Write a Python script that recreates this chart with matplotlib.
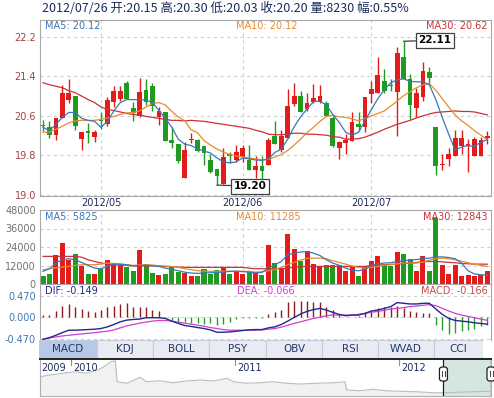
import numpy as np
import matplotlib
matplotlib.use("Agg")
import matplotlib.pyplot as plt
from matplotlib.patches import Rectangle, FancyBboxPatch

# ---- data (70 trading days, 2012-04-17 .. 2012-07-26) ----
opens = [20.40, 20.37, 20.22, 20.55, 20.93, 21.00, 20.13, 20.28, 20.18, 20.52,
         20.43, 20.89, 20.95, 21.27, 20.75, 20.60, 21.12, 21.20, 20.58, 20.68,
         20.12, 20.03, 19.35, 20.11, 20.12, 20.00, 19.71, 19.53, 19.22, 19.83,
         19.70, 19.77, 19.70, 19.51, 19.58, 19.60, 20.19, 19.91, 20.15, 20.85,
         21.00, 20.73, 20.88, 20.88, 20.87, 20.55, 19.95, 20.05, 20.10, 20.43,
         20.37, 21.05, 21.07, 21.31, 21.23, 21.08, 21.80, 21.35, 20.75, 20.98,
         21.48, 20.38, 19.60, 19.73, 19.78, 20.00, 20.00, 19.78, 19.78, 20.15]
closes = [20.39, 20.22, 20.55, 21.07, 21.07, 20.40, 20.27, 20.26, 20.27, 20.49,
          20.93, 21.10, 21.10, 20.95, 20.65, 21.08, 20.89, 20.80, 20.70, 20.10,
          20.05, 19.68, 19.91, 20.13, 19.89, 19.85, 19.47, 19.39, 19.77, 19.79,
          19.88, 19.95, 19.51, 19.59, 19.49, 20.12, 20.03, 20.20, 20.80, 21.00,
          20.68, 20.87, 20.97, 21.00, 20.60, 20.00, 20.07, 20.12, 20.48, 20.37,
          20.98, 21.15, 21.43, 21.11, 21.20, 21.87, 21.35, 20.82, 21.07, 21.50,
          21.37, 19.58, 19.63, 19.83, 20.15, 20.15, 20.03, 20.13, 20.11, 20.20]
highs = [20.51, 20.50, 20.56, 21.23, 21.35, 21.00, 20.27, 20.45, 20.32, 20.68,
         20.98, 21.20, 21.20, 21.30, 20.88, 21.37, 21.35, 21.27, 20.78, 20.68,
         20.37, 20.03, 20.07, 20.25, 20.14, 20.00, 19.83, 19.53, 19.95, 19.87,
         20.02, 20.02, 20.02, 19.78, 19.78, 20.15, 20.49, 20.32, 21.15, 21.27,
         21.11, 21.07, 21.25, 21.22, 20.90, 20.60, 20.10, 20.23, 20.67, 20.67,
         20.98, 21.30, 21.80, 21.55, 21.35, 22.00, 22.11, 21.45, 21.17, 21.69,
         21.58, 20.38, 19.83, 19.95, 20.31, 20.31, 20.13, 20.17, 20.18, 20.30]
lows = [20.30, 20.15, 20.11, 20.55, 20.87, 20.31, 19.92, 20.05, 20.08, 20.33,
        20.40, 20.78, 20.90, 20.95, 20.50, 20.57, 20.82, 20.70, 20.42, 20.09,
        19.95, 19.65, 19.35, 20.06, 19.87, 19.60, 19.45, 19.20, 19.22, 19.65,
        19.67, 19.67, 19.51, 19.35, 19.33, 19.60, 20.03, 19.88, 20.15, 20.80,
        20.68, 20.70, 20.87, 20.87, 20.60, 19.97, 19.73, 19.82, 20.10, 20.30,
        20.27, 20.87, 21.07, 21.07, 21.10, 20.20, 21.35, 20.53, 20.58, 20.90,
        21.23, 19.40, 19.51, 19.58, 19.78, 19.82, 19.47, 19.78, 19.78, 20.03]

ma5 = [20.37, 20.30, 20.43, 20.57, 20.67, 20.67, 20.55, 20.51, 20.49, 20.37,
       20.49, 20.70, 20.87, 20.93, 20.93, 20.93, 20.92, 20.87, 20.71, 20.55,
       20.37, 20.13, 20.03, 20.00, 19.93, 19.89, 19.85, 19.75, 19.67, 19.65,
       19.67, 19.75, 19.73, 19.71, 19.70, 19.73, 19.86, 19.93, 20.13, 20.38,
       20.58, 20.74, 20.89, 20.90, 20.82, 20.63, 20.47, 20.27, 20.21, 20.27,
       20.50, 20.73, 20.95, 21.13, 21.27, 21.33, 21.35, 21.30, 21.29, 21.29,
       21.23, 20.93, 20.57, 20.23, 19.91, 19.97, 20.00, 19.98, 20.07, 20.12]
ma10 = [20.27, 20.27, 20.33, 20.39, 20.46, 20.50, 20.51, 20.51, 20.51, 20.53,
        20.56, 20.59, 20.63, 20.66, 20.67, 20.70, 20.78, 20.85, 20.87, 20.82,
        20.69, 20.58, 20.50, 20.32, 20.26, 20.10, 20.01, 19.93, 19.87, 19.82,
        19.79, 19.77, 19.75, 19.73, 19.71, 19.72, 19.77, 19.82, 19.90, 20.01,
        20.13, 20.26, 20.37, 20.49, 20.59, 20.61, 20.58, 20.57, 20.54, 20.50,
        20.55, 20.60, 20.65, 20.70, 20.80, 20.90, 21.01, 21.09, 21.17, 21.23,
        21.25, 21.12, 20.95, 20.78, 20.62, 20.50, 20.41, 20.30, 20.21, 20.12]
ma30 = [21.27, 21.23, 21.20, 21.17, 21.11, 21.07, 21.00, 20.93, 20.87, 20.78,
        20.73, 20.71, 20.68, 20.65, 20.63, 20.62, 20.59, 20.57, 20.55, 20.53,
        20.51, 20.51, 20.50, 20.51, 20.50, 20.49, 20.47, 20.45, 20.43, 20.41,
        20.39, 20.37, 20.35, 20.31, 20.28, 20.23, 20.22, 20.22, 20.23, 20.25,
        20.25, 20.23, 20.23, 20.22, 20.21, 20.18, 20.17, 20.13, 20.13, 20.14,
        20.17, 20.22, 20.27, 20.33, 20.38, 20.43, 20.47, 20.51, 20.56, 20.60,
        20.64, 20.67, 20.68, 20.69, 20.70, 20.69, 20.69, 20.68, 20.65, 20.62]

volume = [5380, 6670, 18940, 26470, 15710, 19370, 11410, 6670, 6670, 9900,
          15710, 12910, 12480, 10760, 8610, 22170, 12910, 7100, 6030, 6460,
          10760, 7750, 7100, 4950, 5380, 9900, 6460, 9250, 10330, 6670,
          7750, 6670, 8610, 7750, 6030, 25390, 13560, 10330, 32280, 22810,
          14630, 21520, 13130, 11410, 12480, 12480, 12480, 8180, 11410, 5380,
          11410, 14630, 18290, 12480, 11410, 20660, 19370, 16360, 8610, 17860,
          8610, 43040, 12050, 6460, 12480, 4950, 6030, 4950, 5600, 8230]
vol_ma5 = [8200, 9900, 13600, 15700, 16400, 15700, 14000, 12100, 10300, 9900,
           11400, 12900, 12900, 12500, 11600, 12100, 12100, 11800, 11400, 10300,
           9500, 8600, 7700, 7100, 6900, 7100, 7300, 7500, 7700, 8200,
           8400, 8000, 7700, 7100, 7500, 10300, 12500, 14600, 18900, 20000,
           20700, 21100, 20000, 18500, 15700, 13600, 12100, 10300, 9000, 8600,
           9500, 12100, 13100, 13600, 13800, 14600, 15100, 15500, 15900, 16400,
           16800, 17600, 17600, 17200, 16400, 13600, 8600, 6500, 6000, 5825]
vol_ma10 = [9300, 9900, 10500, 11000, 11400, 12100, 12500, 12500, 12500, 12900,
            13600, 13300, 12900, 12500, 12100, 12300, 12500, 12300, 11800, 11600,
            11400, 10800, 9900, 9300, 8600, 8400, 8200, 8200, 8200, 8200,
            8200, 8200, 8200, 7700, 8000, 8600, 9500, 10800, 12500, 14000,
            15500, 16600, 16800, 16800, 16400, 15100, 14000, 12900, 11600, 10800,
            10300, 10800, 11400, 12100, 12500, 13100, 13600, 13600, 13600, 14200,
            15500, 16400, 16800, 16400, 15700, 14800, 13800, 12900, 12100, 11285]
vol_ma30 = [17900, 17900, 17900, 17900, 17900, 17900, 17400, 15700, 14600, 13600,
            13100, 12500, 12300, 12100, 11800, 11800, 11800, 11800, 11600, 11400,
            11200, 11000, 10800, 10800, 10800, 10800, 10800, 10800, 10800, 10800,
            10800, 10800, 10300, 9900, 9900, 9900, 9900, 9900, 10300, 11000,
            11200, 11400, 11400, 11400, 11400, 11400, 11400, 11400, 11400, 11400,
            11400, 12100, 12300, 12500, 12700, 12900, 13300, 13600, 14000, 14400,
            14600, 14600, 14400, 14000, 13800, 13300, 13100, 12900, 12900, 12843]

dif = [-0.485, -0.448, -0.395, -0.336, -0.283, -0.283, -0.276, -0.269, -0.261, -0.246,
       -0.209, -0.157, -0.097, -0.060, -0.045, -0.037, -0.007, -0.007, -0.007, -0.022,
       -0.082, -0.134, -0.179, -0.200, -0.224, -0.246, -0.276, -0.328, -0.328, -0.321,
       -0.306, -0.290, -0.276, -0.269, -0.269, -0.231, -0.209, -0.157, -0.082, 0.000,
       0.075, 0.134, 0.172, 0.200, 0.164, 0.112, 0.067, 0.037, 0.052, 0.052,
       0.090, 0.142, 0.164, 0.200, 0.239, 0.328, 0.313, 0.298, 0.298, 0.313,
       0.313, 0.187, 0.067, -0.022, -0.067, -0.082, -0.097, -0.119, -0.134, -0.149]
dea = [-0.485, -0.455, -0.433, -0.410, -0.395, -0.380, -0.366, -0.351, -0.336, -0.321,
       -0.306, -0.276, -0.231, -0.187, -0.157, -0.127, -0.104, -0.082, -0.067, -0.067,
       -0.082, -0.104, -0.127, -0.149, -0.172, -0.194, -0.224, -0.246, -0.269, -0.283,
       -0.283, -0.283, -0.283, -0.283, -0.276, -0.261, -0.246, -0.216, -0.172, -0.134,
       -0.097, -0.060, -0.022, 0.007, 0.037, 0.052, 0.052, 0.052, 0.052, 0.067,
       0.090, 0.112, 0.134, 0.157, 0.187, 0.200, 0.216, 0.239, 0.254, 0.269,
       0.283, 0.261, 0.200, 0.142, 0.090, 0.052, 0.022, -0.007, -0.037, -0.066]
macd = [0.052, 0.052, 0.140, 0.260, 0.290, 0.220, 0.190, 0.140, 0.110, 0.160,
        0.220, 0.260, 0.290, 0.310, 0.220, 0.220, 0.220, 0.160, 0.140, -0.020,
        -0.060, -0.100, -0.110, -0.130, -0.130, -0.150, -0.130, -0.170, -0.150, -0.100,
        -0.045, -0.022, -0.022, -0.022, -0.010, 0.075, 0.127, 0.164, 0.350, 0.373,
        0.373, 0.373, 0.350, 0.350, 0.240, 0.164, 0.052, 0.015, 0.015, 0.030,
        0.090, 0.140, 0.200, 0.220, 0.240, 0.250, 0.200, 0.140, 0.127, 0.104,
        0.090, -0.170, -0.280, -0.360, -0.340, -0.310, -0.270, -0.250, -0.190, -0.166]

month_labels = ["2012/05", "2012/06", "2012/07"]
month_start = [9, 31, 51]
high_idx, low_idx = 56, 27

price_ticks = [19.0, 19.8, 20.6, 21.4, 22.2]
vol_ticks = [0, 12000, 24000, 36000, 48000]
macd_ticks = [-0.47, 0.0, 0.47]

tab_names = ["MACD", "KDJ", "BOLL", "PSY", "OBV", "RSI", "WVAD", "CCI"]

nav_years = [2009.81, 2009.87, 2009.97, 2010.03, 2010.09, 2010.16, 2010.20, 2010.24,
             2010.27, 2010.28, 2010.34, 2010.42, 2010.46, 2010.54, 2010.62, 2010.70,
             2010.79, 2010.87, 2010.95, 2010.99, 2011.07, 2011.15, 2011.23, 2011.31,
             2011.40, 2011.50, 2011.60, 2011.67, 2011.68, 2011.76, 2011.84, 2011.92,
             2012.00, 2012.11, 2012.21, 2012.27, 2012.41, 2012.55]
nav_close = [26.9, 27.6, 28.5, 28.9, 28.3, 29.6, 30.9, 32.9, 33.3, 24.9, 24.3, 26.7,
             24.9, 25.3, 24.5, 25.2, 25.6, 25.2, 26.3, 24.9, 24.3, 24.5, 24.9, 24.3,
             24.0, 24.3, 24.5, 24.9, 21.6, 21.3, 21.9, 21.3, 21.1, 20.9, 20.5, 20.5,
             20.8, 21.1]
nav_years_lab = ["2009", "2010", "2011", "2012"]
nav_year_ticks = [2010, 2011, 2012]

# ---- colours ----
RED = "#e31b1b"
GREEN = "#1f9b1f"
C_MA5 = "#3a78b8"
C_MA10 = "#e88a2e"
C_MA30 = "#cc3038"
NAVY = "#1c2c5c"
GRID = "#d0d0d0"
SPINE = "#a8a8a8"

W, H = 494, 398
fig = plt.figure(figsize=(W / 100, H / 100), dpi=100)
fig.patch.set_facecolor("white")


def px_axes(x0, y0, x1, y1):
    return fig.add_axes([x0 / W, 1 - y1 / H, (x1 - x0) / W, (y1 - y0) / H])


def style_panel(ax, tick_color):
    for s in ax.spines.values():
        s.set_color(SPINE)
        s.set_linewidth(0.8)
    ax.tick_params(length=0, labelsize=7, pad=3)
    ax.tick_params(axis="y", colors=tick_color)
    ax.tick_params(axis="x", colors=NAVY)
    ax.set_xlim(-0.47, 69.57)


x = np.arange(len(opens))
o = np.array(opens)
c = np.array(closes)
up = c >= o
cols = np.where(up, RED, GREEN)

# ---- price panel ----
ax = px_axes(40, 20, 491, 196)
style_panel(ax, "#a8403c")
ax.vlines(x, lows, highs, colors=cols, lw=1, zorder=2)
body_bottom = np.minimum(o, c)
body_h = np.maximum(np.abs(c - o), 0.025)
ax.bar(x, body_h, bottom=body_bottom, width=0.74, color=cols, zorder=3)
ax.plot(x, ma30, color=C_MA30, lw=0.9, zorder=4)
ax.plot(x, ma10, color=C_MA10, lw=0.9, zorder=4)
ax.plot(x, ma5, color=C_MA5, lw=0.9, zorder=4)
ax.set_ylim(18.98, 22.54)
ax.set_yticks(price_ticks)
ax.set_yticklabels([f"{v:.1f}" for v in price_ticks])
ax.set_xticks(month_start)
ax.set_xticklabels(month_labels)
ax.tick_params(axis="x", pad=1.5)
ax.grid(True, linestyle=(0, (3, 3)), color=GRID, lw=0.8)
ax.set_axisbelow(True)
ax.text(0.012, 0.965, f"MA5: {ma5[-1]:.2f}", transform=ax.transAxes, color=C_MA5,
        fontsize=7, va="center", ha="left")
ax.text(0.435, 0.965, f"MA10: {ma10[-1]:.2f}", transform=ax.transAxes, color=C_MA10,
        fontsize=7, va="center", ha="left")
ax.text(0.993, 0.965, f"MA30: {ma30[-1]:.2f}", transform=ax.transAxes, color=C_MA30,
        fontsize=7, va="center", ha="right")
box = dict(boxstyle="square,pad=0.25", fc="white", ec="#404040", lw=0.9)
ax.annotate(f"{highs[high_idx]:.2f}", xy=(high_idx, highs[high_idx]),
            xytext=(15, 1), textcoords="offset pixels", ha="left", va="center",
            fontsize=7.5, fontweight="bold", bbox=box, zorder=6,
            arrowprops=dict(arrowstyle="-", color="#404040", lw=0.9, shrinkA=0, shrinkB=0))
ax.annotate(f"{lows[low_idx]:.2f}", xy=(low_idx, lows[low_idx]),
            xytext=(17, -1), textcoords="offset pixels", ha="left", va="center",
            fontsize=7.5, fontweight="bold", bbox=box, zorder=6,
            arrowprops=dict(arrowstyle="-", color="#404040", lw=0.9, shrinkA=0, shrinkB=0))

# ---- volume panel ----
av = px_axes(40, 210, 491, 284)
style_panel(av, "#707070")
av.bar(x, volume, width=0.78, color=cols, zorder=3)
av.plot(x, vol_ma30, color=C_MA30, lw=0.9, zorder=4)
av.plot(x, vol_ma10, color=C_MA10, lw=0.9, zorder=4)
av.plot(x, vol_ma5, color=C_MA5, lw=0.9, zorder=4)
av.set_ylim(0, 48000)
av.set_yticks(vol_ticks)
av.set_yticklabels([str(v) for v in vol_ticks])
av.set_xticks(month_start)
av.set_xticklabels([])
av.grid(True, linestyle=(0, (3, 3)), color=GRID, lw=0.8)
av.set_axisbelow(True)
av.text(0.012, 0.91, f"MA5: {vol_ma5[-1]}", transform=av.transAxes, color=C_MA5,
        fontsize=7, va="center", ha="left")
av.text(0.435, 0.91, f"MA10: {vol_ma10[-1]}", transform=av.transAxes, color=C_MA10,
        fontsize=7, va="center", ha="left")
av.text(0.993, 0.91, f"MA30: {vol_ma30[-1]}", transform=av.transAxes, color=C_MA30,
        fontsize=7, va="center", ha="right")

# ---- MACD panel ----
am = px_axes(40, 284, 491, 340)
style_panel(am, "#3f78b0")
mc = np.array(macd)
am.vlines(x, 0, mc, colors=np.where(mc >= 0, "#8e1b1b", "#2a9a2a"), lw=1, zorder=3)
am.plot(x, dea, color="#d43cd4", lw=0.9, zorder=4)
am.plot(x, dif, color="#1e2a8e", lw=1.0, zorder=4)
am.set_ylim(-0.50, 0.74)
am.set_yticks(macd_ticks)
am.set_yticklabels([f"{v:.3f}" for v in macd_ticks])
am.set_xticks([])
am.grid(True, axis="y", linestyle=(0, (3, 3)), color=GRID, lw=0.8)
am.set_axisbelow(True)
am.spines["bottom"].set_visible(False)
am.text(0.012, 0.87, f"DIF: {dif[-1]:.3f}", transform=am.transAxes, color="#1e2a8e",
        fontsize=7, va="center", ha="left")
am.text(0.437, 0.87, f"DEA: {dea[-1]:.3f}", transform=am.transAxes, color="#d43cd4",
        fontsize=7, va="center", ha="left")
am.text(0.993, 0.87, f"MACD: {macd[-1]:.3f}", transform=am.transAxes, color="#c84a4a",
        fontsize=7, va="center", ha="right")

# ---- indicator tabs ----
at = px_axes(39, 340, 483, 358)
at.set_xlim(39, 483)
at.set_ylim(358, 340)
at.axis("off")
edges = [39, 97, 153, 209, 266, 322, 378, 434, 483]
for k, name in enumerate(tab_names):
    fc = "#b7c9e6" if k == 0 else "#e8ecf2"
    at.add_patch(Rectangle((edges[k], 340), edges[k + 1] - edges[k], 18,
                           fc=fc, ec="#c4ccd8", lw=0.8))
    at.text((edges[k] + edges[k + 1]) / 2, 349.5, name, ha="center", va="center",
            fontsize=7.5, color="#24366a")

# ---- navigator ----
an = px_axes(40, 359, 491, 396)
an.set_xlim(2009.81, 2012.56)
an.set_ylim(19.2, 34)
an.fill_between(nav_years, nav_close, 19.2, color="#f1f1f1", lw=0)
an.plot(nav_years, nav_close, color="#bcbcbc", lw=0.8)
an.axvspan(2012.27, 2012.56, color="#d4e6e2", lw=0)
an.set_xticks([])
an.set_yticks([])
for s in an.spines.values():
    s.set_color("#b0b0b0")
    s.set_linewidth(0.8)
an.spines["top"].set_color("#202020")
an.spines["top"].set_linewidth(1.4)
for yr in nav_year_ticks:
    an.axvline(yr, ymin=0.84, ymax=1, color="#909090", lw=0.8)
nav_lab_x = [2009.81, 2010, 2011, 2012]
for lab, xv in zip(nav_years_lab, nav_lab_x):
    an.text(xv + 0.01, 30.5, lab, fontsize=7, color=NAVY, ha="left", va="center")
for hx in (2012.27, 2012.56):
    an.axvline(hx, color="#202020", lw=0.9)
    xc = 40 + (hx - 2009.81) / (2012.56 - 2009.81) * 451
    fig.patches.append(FancyBboxPatch(((xc - 4) / W, 1 - 381 / H), 8 / W, 14 / H,
                                      boxstyle="round,pad=0,rounding_size=0.006",
                                      fc="white", ec="#202020", lw=0.9,
                                      transform=fig.transFigure, figure=fig))
    for dx in (-1.5, 1.5):
        fig.lines.append(plt.Line2D([(xc + dx) / W] * 2, [1 - 376 / H, 1 - 371 / H],
                                    color="#404040", lw=0.7,
                                    transform=fig.transFigure, figure=fig))

# ---- header ----
title = (f"2012/07/26 开:{opens[-1]:.2f} 高:{highs[-1]:.2f} 低:{lows[-1]:.2f} "
         f"收:{closes[-1]:.2f} 量:{volume[-1]} 幅:0.55%")
fig.text(42 / W, 1 - 8 / H, title, fontsize=9, color=NAVY, ha="left", va="center",
         family=["Noto Sans CJK SC", "DejaVu Sans"])

fig.savefig("out.png", dpi=100)
